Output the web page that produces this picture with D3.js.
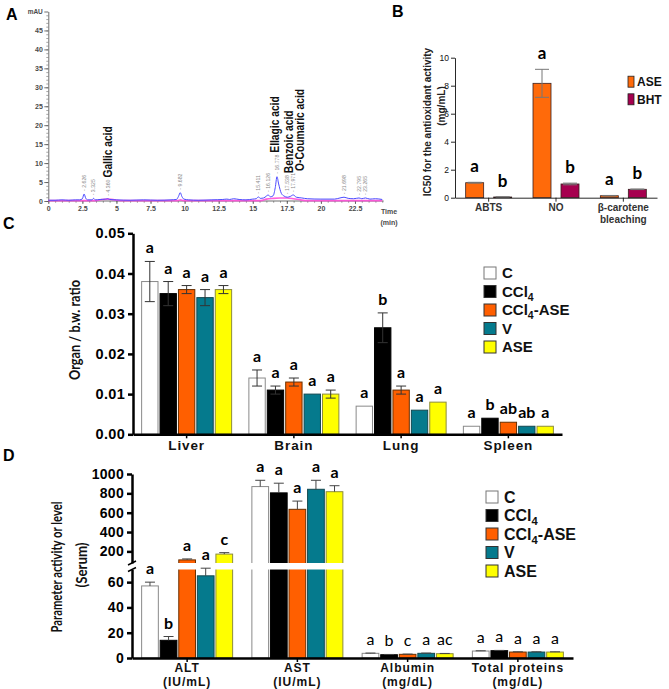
<!DOCTYPE html>
<html><head><meta charset="utf-8">
<script src="https://cdn.jsdelivr.net/npm/d3@7/dist/d3.min.js"></script>
<style>html,body{margin:0;padding:0;background:#fff;} svg{display:block;}</style>
</head><body>
<svg id="fig" width="669" height="689" xmlns="http://www.w3.org/2000/svg"></svg>
<script>
// ================= DATA =================
// Panel A: HPLC chromatogram
const chromTime = [0,0.5,1,1.5,2,2.3,2.5,2.626,2.75,2.9,3.2,3.325,3.45,3.8,4.2,4.36,4.5,5,6,7,8,9,9.4,9.55,9.682,9.8,9.95,10.3,11,12,12.8,13.1,13.3,13.6,14,14.5,15,15.25,15.411,15.55,15.8,16.0,16.126,16.3,16.5,16.65,16.778,16.9,17.1,17.3,17.538,17.75,17.971,18.2,18.6,19,20,21,21.4,21.698,22,22.4,22.795,23.0,23.265,23.6,24,24.5];
const chromBlue = [0.2,0.2,0.3,0.2,0.3,0.3,0.6,1.85,0.7,0.3,0.3,0.7,0.3,0.4,0.5,0.6,0.4,0.3,0.2,0.3,0.2,0.3,0.4,1.2,2.2,1.2,0.5,0.3,0.2,0.3,0.4,0.5,0.4,0.6,0.4,0.3,0.5,0.6,1.1,0.7,0.8,1.3,1.6,1.1,1.4,3.5,6.4,4.5,2.0,1.3,1.0,1.2,1.6,1.0,0.8,0.6,0.5,0.5,0.8,1.0,0.7,0.6,0.8,0.6,0.8,0.5,0.6,0.4];
const chromPinkTime = [0,3.5,3.9,4.4,4.9,5.3,9.5,9.7,9.9,15.6,16,16.5,17,17.5,18,18.5,19,24.5];
const chromPink = [0.1,0.1,0.4,0.5,0.3,0.1,0.1,0.3,0.1,0.1,0.5,0.7,0.8,0.8,0.6,0.3,0.1,0.1];
const peakLabels = ["2.626","3.325","4.360","9.682","15.411","16.126","16.778","17.538","17.971","21.698","22.795","23.265"];
const compoundNames = ["Gallic acid","Ellagic acid","Benzoic acid","O-Coumaric acid"];
const compoundPeaks = ["4.360","16.778","17.538","17.971"];
const chromYTicks = [0,5,10,15,20,25,30,35,40,45,50];
const chromXTicks = [0,2.5,5,7.5,10,12.5,15,17.5,20,22.5];

// Panel B: IC50
const bCategories = ["ABTS","NO","β-carotene bleaching"];
const bSeries = ["ASE","BHT"];
const bASE = [1.07, 8.17, 0.14];
const bASEErr = [0.03, 1.0, 0.02];
const bBHT = [0.05, 0.98, 0.60];
const bBHTErr = [0.01, 0.06, 0.02];
const bLettersASE = ["a","a","a"];
const bLettersBHT = ["b","b","b"];
const bTicks = [0,2,4,6,8,10];

// Groups (C, D)
const groups = ["C","CCl4","CCl4-ASE","V","ASE"];

// Panel C: organ / body weight ratio
const organs = ["Liver","Brain","Lung","Spleen"];
const cC       = [0.038, 0.014, 0.007, 0.002];
const cCCl4    = [0.035, 0.011, 0.0265, 0.004];
const cCCl4ASE = [0.036, 0.013, 0.011, 0.003];
const cV       = [0.034, 0.010, 0.006, 0.002];
const cASE     = [0.036, 0.010, 0.008, 0.002];
const cCErr       = [0.005, 0.002, 0, 0];
const cCCl4Err    = [0.003, 0.001, 0.0037, 0];
const cCCl4ASEErr = [0.001, 0.001, 0.001, 0];
const cVErr       = [0.002, 0, 0, 0];
const cASEErr     = [0.001, 0.001, 0, 0];
const cLetters = [["a","a","a","a","a"],["a","a","a","a","a"],["a","b","a","a","a"],["a","b","ab","ab","a"]];
const cTicks = [0,0.01,0.02,0.03,0.04,0.05];

// Panel D: serum parameters
const params = ["ALT","AST","Albumin","Total proteins"];
const paramUnits = ["(IU/mL)","(IU/mL)","(mg/dL)","(mg/dL)"];
const dC       = [57, 870, 3.7, 5.5];
const dCCl4    = [14, 805, 2.6, 5.8];
const dCCl4ASE = [112, 635, 2.9, 4.7];
const dV       = [65, 842, 3.7, 4.7];
const dASE     = [172, 817, 3.4, 4.7];
const dCErr       = [3, 65, 0.2, 0.2];
const dCCl4Err    = [3, 100, 0.2, 0.2];
const dCCl4ASEErr = [10, 85, 0.2, 0.2];
const dVErr       = [7, 93, 0.2, 0.2];
const dASEErr     = [15, 62, 0.2, 0.2];
const dLetters = [["a","b","a","a","c"],["a","a","a","a","a"],["a","b","c","a","ac"],["a","a","a","a","a"]];
const dTicksLow = [0,20,40,60];
const dTicksUp = [200,400,600,800,1000];

// ================= STYLE =================
const FB = "'Liberation Sans', Arial, Helvetica, sans-serif";
const FL = "Lato, 'Liberation Sans', sans-serif";
const groupFill = ["#ffffff","#000000","#ff5f00","#057a8d","#ffff00"];
const groupStroke = ["#8a8a8a","#000000","#6a3000","#124850","#8c8c3c"];

const svg = d3.select("#fig");

function groupName(sel, name) {
  const parts = name.split("CCl4");
  if (parts.length === 1) { sel.text(name); return; }
  sel.append("tspan").text("CCl");
  sel.append("tspan").attr("font-size","70%").attr("dy",4).text("4");
  if (parts[1]) sel.append("tspan").attr("dy",-4).text(parts[1]);
}
function styleAxis(g, font, size, weight, color, strokeW) {
  g.attr("font-family", font).attr("font-size", size).attr("font-weight", weight);
  g.selectAll("text").attr("fill", color);
  g.selectAll("line").attr("stroke", color).attr("stroke-width", strokeW);
  g.select(".domain").attr("stroke", color).attr("stroke-width", strokeW);
}

// Panel letters
[["A",6,20],["B",392,17],["C",3,229],["D",3,461]].forEach(([t,x,y]) => {
  svg.append("text").attr("x",x).attr("y",y).attr("font-family",FB).attr("font-weight","bold")
    .attr("font-size",16).attr("fill","#000").text(t);
});

// ================= PANEL A =================
{
  const g = svg.append("g");
  const ax = d3.scaleLinear().domain([0,25]).range([48.3, 48.3 + 25*13.63]);
  const ay = d3.scaleLinear().domain([0,50]).range([201, 201 - 50*3.79]);

  const yMinor = g.append("g").attr("transform",`translate(${ax(0)},0)`)
    .call(d3.axisLeft(ay).tickValues(d3.range(0,50,1)).tickSize(2).tickFormat(""));
  styleAxis(yMinor, FB, 7, "bold", "#666", 0.6);
  const xMinor = g.append("g").attr("transform",`translate(0,${ay(0)})`)
    .call(d3.axisBottom(ax).tickValues(d3.range(0,24.6,0.5)).tickSize(1.8).tickFormat(""));
  styleAxis(xMinor, FB, 7, "bold", "#666", 0.6);
  xMinor.select(".domain").remove();
  yMinor.select(".domain").remove();

  const yAx = g.append("g").attr("transform",`translate(${ax(0)},0)`)
    .call(d3.axisLeft(ay).tickValues(chromYTicks).tickSize(4).tickSizeOuter(0).tickPadding(1.5)
      .tickFormat(d => d === 50 ? "mAU" : d));
  styleAxis(yAx, FB, 7, "bold", "#4a4a4a", 0.8);
  yAx.selectAll("text").attr("font-size", d => d === 50 ? 6.5 : 7);

  const xAx = g.append("g").attr("transform",`translate(0,${ay(0)})`)
    .call(d3.axisBottom(ax).tickValues(chromXTicks).tickSize(3).tickSizeOuter(0).tickPadding(2)
      .tickFormat(d => d));
  styleAxis(xAx, FB, 7, "bold", "#4a4a4a", 0.8);
  xAx.select(".domain").attr("d", `M${ax(0)},0H${ax(24.6)}`);

  g.append("text").attr("x", ax(25)).attr("y", 214).attr("text-anchor","middle")
    .attr("font-family",FB).attr("font-size",7).attr("font-weight","bold").attr("fill","#4a4a4a").text("Time");
  g.append("text").attr("x", ax(25)).attr("y", 225).attr("text-anchor","middle")
    .attr("font-family",FB).attr("font-size",7).attr("font-weight","bold").attr("fill","#4a4a4a").text("(min)");

  const line = d3.line().x(d => ax(d[0])).y(d => ay(d[1])).curve(d3.curveMonotoneX);
  g.append("path").datum(chromPinkTime.map((t,i)=>[t,chromPink[i]]))
    .attr("d", line).attr("fill","none").attr("stroke","#ff4fd8").attr("stroke-width",1.6).attr("opacity",0.9);
  g.append("path").datum(chromTime.map((t,i)=>[t,chromBlue[i]]))
    .attr("d", line).attr("fill","none").attr("stroke","#4b4bff").attr("stroke-width",1);

  const labelTop = {};
  peakLabels.forEach(s => {
    const t = +s;
    const idx = chromTime.indexOf(t);
    const v = chromBlue[idx];
    const x = ax(t) + 1.8, y = ay(v) - 3;
    const tx = g.append("text").attr("transform",`translate(${x},${y}) rotate(-90)`)
      .attr("font-family",FB).attr("font-size",5.2).attr("fill","#8a8a8a").text("- " + s);
    labelTop[s] = { x: ax(t), top: y - tx.node().getComputedTextLength() };
  });
  const compoundDx = [0, -2, 1, 6];
  compoundNames.forEach((name, i) => {
    const p = labelTop[compoundPeaks[i]];
    const tx = g.append("text")
      .attr("transform",`translate(${p.x + compoundDx[i] + 4.5},${p.top - 2}) rotate(-90)`)
      .attr("font-family",FB).attr("font-size",12.5).attr("font-weight","bold").attr("fill","#111").text(name);
    const L = tx.node().getComputedTextLength();
    tx.attr("textLength", L*0.82).attr("lengthAdjust","spacingAndGlyphs");
  });
}

// ================= PANEL B =================
{
  const g = svg.append("g");
  const bx = d3.scaleBand().domain(bCategories).range([455,657]);
  const bx1 = d3.scaleBand().domain(bSeries).range([-23,23]).paddingInner(0.357);
  const by = d3.scaleLinear().domain([0,10]).range([197.7,57.7]);
  const bFill = ["#ff6a0a","#a6004f"];
  const vals = [bASE, bBHT], errs = [bASEErr, bBHTErr], lets = [bLettersASE, bLettersBHT];

  bSeries.forEach((s, si) => {
    bCategories.forEach((c, ci) => {
      const x = bx(c) + bx.bandwidth()/2 + bx1(s), w = bx1.bandwidth();
      const v = vals[si][ci], e = errs[si][ci];
      g.append("rect").attr("x",x).attr("y",by(v)).attr("width",w).attr("height",by(0)-by(v))
        .attr("fill",bFill[si]).attr("stroke","#3a2020").attr("stroke-width",0.8);
      const cx = x + w/2;
      g.append("line").attr("x1",cx).attr("x2",cx).attr("y1",by(v-e)).attr("y2",by(v+e)).attr("stroke","#777").attr("stroke-width",1);
      [v-e, v+e].forEach(q => g.append("line").attr("x1",cx-7).attr("x2",cx+7).attr("y1",by(q)).attr("y2",by(q)).attr("stroke","#777").attr("stroke-width",1));
      g.append("text").attr("x",cx).attr("y",by(v+e)-10).attr("text-anchor","middle")
        .attr("font-family",FL).attr("font-weight","bold").attr("font-size",17).attr("fill","#000").text(lets[si][ci]);
    });
  });

  const yAx = g.append("g").attr("transform","translate(455,0)")
    .call(d3.axisLeft(by).tickValues(bTicks).tickSize(4).tickSizeOuter(0).tickPadding(2));
  styleAxis(yAx, FB, 8.5, "normal", "#111", 0.9);
  const xAx = g.append("g").attr("transform",`translate(0,${by(0)})`)
    .call(d3.axisBottom(bx).tickSize(4).tickSizeOuter(0).tickFormat(""));
  styleAxis(xAx, FB, 10, "bold", "#111", 0.9);

  bCategories.forEach(c => {
    const cx = bx(c) + bx.bandwidth()/2;
    const words = c === "β-carotene bleaching" ? ["β-carotene","bleaching"] : [c];
    words.forEach((w, i) => g.append("text").attr("x",cx).attr("y",211 + i*11.5).attr("text-anchor","middle")
      .attr("font-family",FB).attr("font-weight","bold").attr("font-size",10).attr("fill","#333").text(w));
  });

  g.append("text").attr("transform","translate(431,122) rotate(-90)").attr("text-anchor","middle")
    .attr("font-family",FB).attr("font-weight","bold").attr("font-size",10).attr("fill","#222")
    .text("IC50 for the antioxidant activity");
  g.append("text").attr("transform","translate(445,106) rotate(-90)").attr("text-anchor","middle")
    .attr("font-family",FB).attr("font-weight","bold").attr("font-size",10).attr("fill","#222")
    .text("(mg/mL)");

  bSeries.forEach((s, i) => {
    const yc = 81.7 + i*17.6;
    g.append("rect").attr("x",628).attr("y",yc-5.5).attr("width",6).attr("height",11)
      .attr("fill",bFill[i]).attr("stroke","#222").attr("stroke-width",0.8);
    g.append("text").attr("x",637).attr("y",yc).attr("dy","0.36em")
      .attr("font-family",FB).attr("font-weight","bold").attr("font-size",12).attr("fill","#111").text(s);
  });
}

// ================= PANEL C =================
{
  const g = svg.append("g");
  const x0 = d3.scaleBand().domain(organs).range([133,562]);
  const x1 = d3.scaleBand().domain(groups).range([-45,45]).paddingInner(0.111);
  const y = d3.scaleLinear().domain([0,0.05]).range([434.3,233.3]);
  const vals = [cC, cCCl4, cCCl4ASE, cV, cASE];
  const errs = [cCErr, cCCl4Err, cCCl4ASEErr, cVErr, cASEErr];

  groups.forEach((gr, gi) => {
    organs.forEach((o, oi) => {
      const x = x0(o) + x0.bandwidth()/2 + x1(gr), w = x1.bandwidth();
      const v = vals[gi][oi], e = errs[gi][oi];
      g.append("rect").attr("x",x).attr("y",y(v)).attr("width",w).attr("height",y(0)-y(v))
        .attr("fill",groupFill[gi]).attr("stroke",groupStroke[gi]).attr("stroke-width",1);
      const cx = x + w/2;
      if (e > 0) {
        g.append("line").attr("x1",cx).attr("x2",cx).attr("y1",y(v-e)).attr("y2",y(v+e)).attr("stroke","#333").attr("stroke-width",1);
        [v-e, v+e].forEach(q => g.append("line").attr("x1",cx-5).attr("x2",cx+5).attr("y1",y(q)).attr("y2",y(q)).attr("stroke","#333").attr("stroke-width",1));
      }
      g.append("text").attr("x",cx).attr("y",y(v+e)-8).attr("text-anchor","middle")
        .attr("font-family",FL).attr("font-weight","bold").attr("font-size",16).attr("fill","#000").text(cLetters[oi][gi]);
    });
  });

  const yAx = g.append("g").attr("transform","translate(133,0)")
    .call(d3.axisLeft(y).tickValues(cTicks).tickSize(5).tickSizeOuter(0).tickPadding(3).tickFormat(d3.format(".2f")));
  styleAxis(yAx, FB, 14.5, "bold", "#000", 2.5);
  yAx.selectAll("text").attr("letter-spacing","0.3px");
  const xAx = g.append("g").attr("transform",`translate(0,${y(0)})`)
    .call(d3.axisBottom(x0).tickSize(4).tickSizeOuter(0).tickFormat(""));
  styleAxis(xAx, FB, 14.5, "bold", "#000", 2.5);
  xAx.selectAll(".tick line").attr("stroke-width",1.5);
  organs.forEach(o => g.append("text").attr("x", x0(o)+x0.bandwidth()/2).attr("y",449.5).attr("text-anchor","middle")
    .attr("font-family",FB).attr("font-weight","bold").attr("font-size",13.5).attr("letter-spacing","0.9px").attr("fill","#111").text(o));

  g.append("text").attr("transform","translate(80,330) rotate(-90)").attr("text-anchor","middle")
    .attr("font-family",FL).attr("font-weight","bold").attr("font-size",15).attr("fill","#111")
    .attr("textLength",100).attr("lengthAdjust","spacingAndGlyphs").text("Organ / b.w. ratio");

  groups.forEach((gr, i) => {
    const yc = 273 + i*18.5;
    g.append("rect").attr("x",484).attr("y",yc-6).attr("width",12).attr("height",12)
      .attr("fill",groupFill[i]).attr("stroke", i===0 ? "#777" : "#333").attr("stroke-width",1);
    const t = g.append("text").attr("x",502).attr("y",yc+5.3)
      .attr("font-family",FB).attr("font-weight","bold").attr("font-size",15).attr("fill","#111");
    groupName(t, gr);
  });
}

// ================= PANEL D =================
{
  const g = svg.append("g");
  const x0 = d3.scaleBand().domain(params).range([132,573]);
  const x1 = d3.scaleBand().domain(groups).range([-45.5,45.5]).paddingInner(0.1);
  const yLow = d3.scaleLinear().domain([0,70]).range([658,569.5]);
  const yUp = d3.scaleLinear().domain([80,1000]).range([563,474]);
  const yD = v => v <= 70 ? yLow(v) : (v >= 80 ? yUp(v) : yLow(70) + (v-70)/10*(yUp(80)-yLow(70)));
  const vals = [dC, dCCl4, dCCl4ASE, dV, dASE];
  const errs = [dCErr, dCCl4Err, dCCl4ASEErr, dVErr, dASEErr];

  groups.forEach((gr, gi) => {
    params.forEach((p, pi) => {
      const x = x0(p) + x0.bandwidth()/2 + x1(gr), w = x1.bandwidth();
      const v = vals[gi][pi];
      g.append("rect").attr("x",x).attr("y",yD(v)).attr("width",w).attr("height",yD(0)-yD(v))
        .attr("fill",groupFill[gi]).attr("stroke",groupStroke[gi]).attr("stroke-width",1);
    });
  });
  g.append("rect").attr("x",133.5).attr("y",yUp(80)).attr("width",442).attr("height",yLow(70)-yUp(80)).attr("fill","#fff");

  groups.forEach((gr, gi) => {
    params.forEach((p, pi) => {
      const x = x0(p) + x0.bandwidth()/2 + x1(gr), w = x1.bandwidth();
      const v = vals[gi][pi], e = errs[gi][pi];
      const cx = x + w/2;
      g.append("line").attr("x1",cx).attr("x2",cx).attr("y1",yD(v)).attr("y2",yD(v+e)).attr("stroke","#444").attr("stroke-width",1);
      g.append("line").attr("x1",cx-5).attr("x2",cx+5).attr("y1",yD(v+e)).attr("y2",yD(v+e)).attr("stroke","#444").attr("stroke-width",1);
      const bold = pi < 2;
      g.append("text").attr("x",cx).attr("y",yD(v+e)-8).attr("text-anchor","middle")
        .attr("font-family",FL).attr("font-weight", bold ? "bold" : "normal").attr("font-size",16).attr("fill","#000").text(dLetters[pi][gi]);
    });
  });

  const yAxL = g.append("g").attr("transform","translate(132,0)")
    .call(d3.axisLeft(yLow).tickValues(dTicksLow).tickSize(5).tickSizeOuter(0).tickPadding(3).tickFormat(d3.format("d")));
  styleAxis(yAxL, FB, 14, "bold", "#000", 2.5);
  const yAxU = g.append("g").attr("transform","translate(132,0)")
    .call(d3.axisLeft(yUp).tickValues(dTicksUp).tickSize(5).tickSizeOuter(0).tickPadding(3).tickFormat(d3.format("d")));
  styleAxis(yAxU, FB, 14, "bold", "#000", 2.5);
  yAxL.selectAll("text").attr("letter-spacing","0.3px");
  yAxU.selectAll("text").attr("letter-spacing","0.3px");
  [yUp(80), yLow(70)].forEach(yy => g.append("line").attr("x1",128).attr("x2",136).attr("y1",yy+2).attr("y2",yy-2)
    .attr("stroke","#000").attr("stroke-width",1.5));

  const xAx = g.append("g").attr("transform",`translate(0,${yLow(0)})`)
    .call(d3.axisBottom(x0).tickSize(4).tickSizeOuter(0).tickFormat(""));
  styleAxis(xAx, FB, 14.5, "bold", "#000", 2.5);
  xAx.selectAll(".tick line").attr("stroke-width",1.5);
  params.forEach((p, i) => {
    const cx = x0(p) + x0.bandwidth()/2;
    [p, paramUnits[i]].forEach((s, k) => g.append("text").attr("x",cx).attr("y",671.5 + k*14).attr("text-anchor","middle")
      .attr("font-family",FB).attr("font-weight","bold").attr("font-size",12).attr("letter-spacing","1px").attr("fill","#111").text(s));
  });

  g.append("text").attr("transform","translate(62,567) rotate(-90)").attr("text-anchor","middle")
    .attr("font-family",FL).attr("font-weight","bold").attr("font-size",15).attr("fill","#111")
    .attr("textLength",131).attr("lengthAdjust","spacingAndGlyphs").text("Parameter activity or level");
  g.append("text").attr("transform","translate(87,565) rotate(-90)").attr("text-anchor","middle")
    .attr("font-family",FL).attr("font-weight","bold").attr("font-size",15).attr("fill","#111")
    .attr("textLength",45).attr("lengthAdjust","spacingAndGlyphs").text("(Serum)");

  groups.forEach((gr, i) => {
    const yc = 497 + i*18.5;
    g.append("rect").attr("x",486).attr("y",yc-6).attr("width",12).attr("height",12)
      .attr("fill",groupFill[i]).attr("stroke", i===0 ? "#777" : "#333").attr("stroke-width",1);
    const t = g.append("text").attr("x",504).attr("y",yc+5.5)
      .attr("font-family",FB).attr("font-weight","bold").attr("font-size",16).attr("fill","#111");
    groupName(t, gr);
  });
}
</script>
</body></html>
